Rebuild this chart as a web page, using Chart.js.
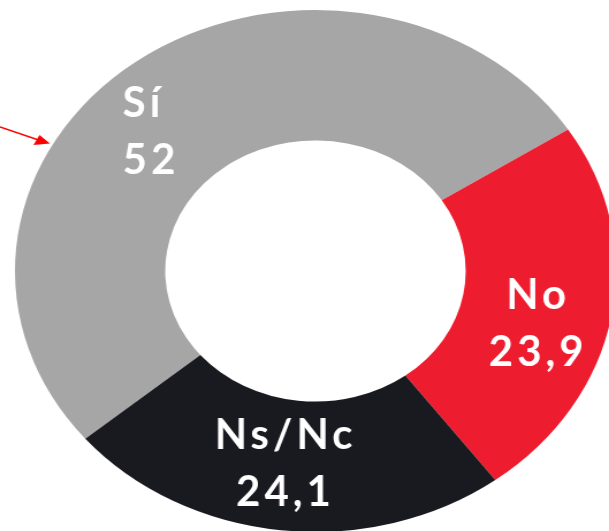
<!DOCTYPE html>
<html>
<head>
<meta charset="utf-8">
<script src="https://cdn.jsdelivr.net/npm/chart.js@4"></script>
<style>
	html, body {margin:0; padding:0; width:609px; height:531px; overflow:hidden; background:#fff;}
	#wrap {position:absolute; left:0; top:0; width:548px; height:542px; transform:scaleX(1.1513); transform-origin:0 0;}
</style>
</head>
<body>
<div id="wrap"><canvas id="dona"></canvas></div>
<script>
// datos
const categories = ['Sí', 'No', 'Ns/Nc']
const values = [52, 23.9, 24.1]
const colors = ['#A6A6A6', '#ED1C2E', '#191920']

// the ring is drawn round and stretched sideways by css
const SX = 1.1513

// label block shift from the arc mid point, in screen px, and alignment
const labelShift = [[-59, 17, 'left'], [1, 17, 'center'], [-4, -3, 'center']]

const labelPlugin = {
	id: 'labels',
	afterDatasetsDraw(chart) {
		const ctx = chart.ctx
		const meta = chart.getDatasetMeta(0)
		ctx.save()
		ctx.scale(1 / SX, 1)
		ctx.fillStyle = '#fff'
		ctx.font = 'bold 42px Lato'
		if ('letterSpacing' in ctx) ctx.letterSpacing = '4px'
		meta.data.forEach((arc, i) => {
			const p = arc.tooltipPosition()
			const cx = p.x * SX + labelShift[i][0]
			const cy = p.y + labelShift[i][1]
			ctx.textAlign = labelShift[i][2]
			const b1 = cy - 13.5
			ctx.fillText(categories[i], cx, b1)
			ctx.fillText(String(values[i]).replace('.', ','), cx, b1 + 57)
		})

		// flecha roja
		ctx.strokeStyle = '#FF0000'
		ctx.fillStyle = '#FF0000'
		ctx.lineWidth = 1.6
		ctx.beginPath()
		ctx.moveTo(0, 127)
		ctx.lineTo(40, 140.5)
		ctx.stroke()
		ctx.beginPath()
		ctx.moveTo(50, 143.5)
		ctx.lineTo(33.5, 145)
		ctx.lineTo(39.5, 135)
		ctx.closePath()
		ctx.fill()
		ctx.restore()
	}
}

new Chart(document.getElementById('dona').getContext('2d'), {
	type: 'doughnut',
	data: {
		labels: categories,
		datasets: [{
			data: values,
			backgroundColor: colors,
			borderWidth: 0,
		}],
	},
	options: {
		responsive: true,
		maintainAspectRatio: false,
		animation: false,
		radius: 261,
		cutout: '50%',
		rotation: 230,
		layout: {padding: 0},
		plugins: {
			legend: {display: false},
			tooltip: {enabled: false},
		},
	},
	plugins: [labelPlugin],
})
</script>
</body>
</html>
